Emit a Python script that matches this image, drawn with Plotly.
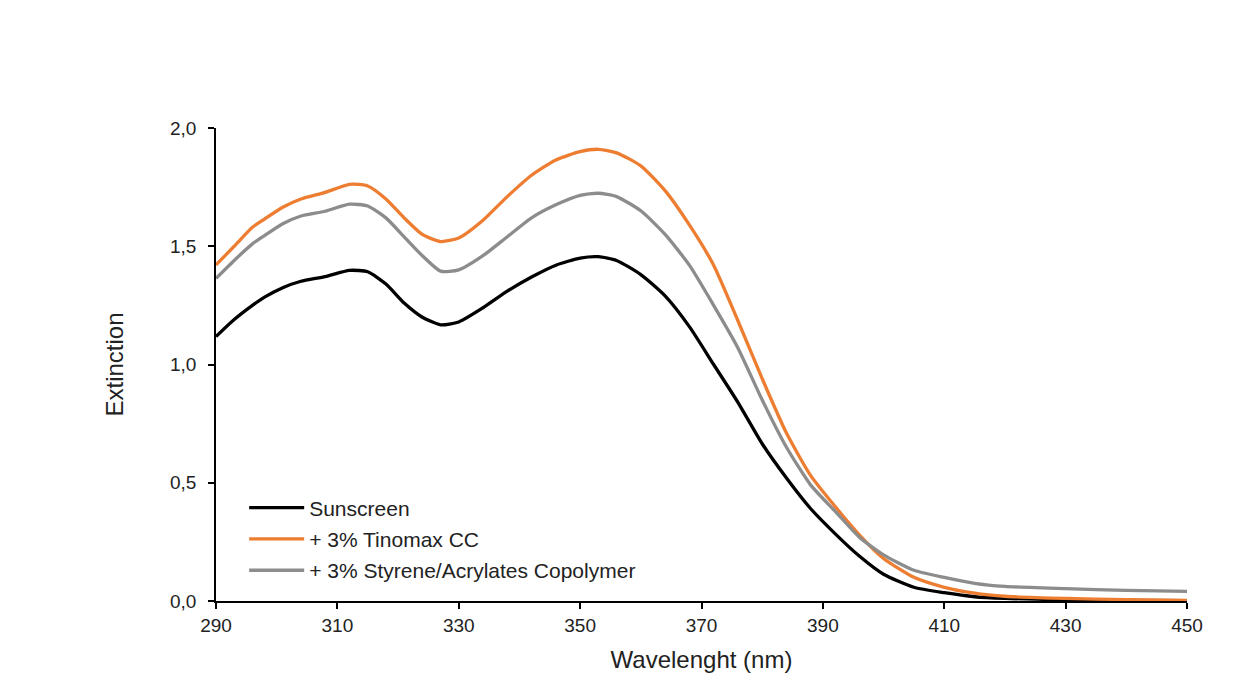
import plotly.graph_objects as go

# Wavelengths (nm).
wavelength = [290, 293, 296, 298, 301, 304, 308, 312, 315, 318, 321, 324, 327, 330,
              334, 338, 342, 346, 350, 353, 356, 360, 364, 368, 372, 376, 380, 384,
              388, 392, 396, 400, 405, 410, 415, 420, 430, 440, 450]

# Extinction values for each sample.
sunscreen = [1.118, 1.19, 1.25, 1.285, 1.325, 1.352, 1.372, 1.398, 1.392, 1.34, 1.26, 1.20,
             1.168, 1.180, 1.24, 1.31, 1.37, 1.42, 1.45, 1.456, 1.44, 1.38, 1.29, 1.16,
             1.0, 0.84, 0.665, 0.52, 0.39, 0.285, 0.19, 0.113, 0.058, 0.035, 0.018, 0.011,
             0.005, 0.003, 0.002]
tinomax = [1.421, 1.50, 1.58, 1.615, 1.665, 1.70, 1.728, 1.762, 1.755, 1.70, 1.62, 1.55,
           1.52, 1.535, 1.61, 1.71, 1.80, 1.865, 1.90, 1.910, 1.895, 1.84, 1.735, 1.59,
           1.42, 1.185, 0.94, 0.71, 0.53, 0.40, 0.28, 0.18, 0.10, 0.058, 0.033, 0.02,
           0.011, 0.006, 0.003]
copolymer = [1.364, 1.44, 1.51, 1.545, 1.595, 1.628, 1.648, 1.678, 1.670, 1.62, 1.54, 1.46,
             1.395, 1.400, 1.46, 1.54, 1.62, 1.675, 1.715, 1.724, 1.71, 1.65, 1.55, 1.42,
             1.25, 1.07, 0.85, 0.65, 0.49, 0.38, 0.27, 0.195, 0.13, 0.10, 0.075, 0.062,
             0.052, 0.045, 0.041]

series_names = ['Sunscreen', '+ 3% Tinomax CC', '+ 3% Styrene/Acrylates Copolymer']
series_colors = ['#000000', '#ED7D31', '#8C8C8C']
x_ticks = [290, 310, 330, 350, 370, 390, 410, 430, 450]
y_ticks = [0, 0.5, 1.0, 1.5, 2.0]

fig = go.Figure()

# One smooth line per sample.
for name, values, color in zip(series_names, [sunscreen, tinomax, copolymer], series_colors):
    fig.add_trace(go.Scatter(x=wavelength, y=values, mode='lines', name=name,
                             legendgroup=name,
                             line=dict(color=color, width=3.3, shape='spline', smoothing=0.6)))

family = 'Liberation Sans, Arial, sans-serif'
tick_font = dict(family=family, size=19, color='#222222')

fig.update_layout(
    width=1233, height=700,
    margin=dict(l=208, r=54, t=120, b=107),
    paper_bgcolor='white', plot_bgcolor='white',
    separators=', ',
    font=dict(family=family, size=19, color='#222222'),
    showlegend=True,
    legend=dict(x=0.029, y=0.24, xanchor='left', yanchor='top', itemwidth=55,
                bgcolor='rgba(0,0,0,0)', tracegroupgap=1,
                font=dict(family=family, size=21, color='#222222')),
    xaxis=dict(title=dict(text='Wavelenght (nm)', font=dict(size=24), standoff=17),
               range=[290, 450], tickvals=x_ticks, tickfont=tick_font,
               showgrid=False, zeroline=False,
               showline=True, linecolor='black', linewidth=1.5,
               ticks='outside', ticklen=6, tickcolor='black', tickwidth=1.5),
    yaxis=dict(title=dict(text='Extinction', font=dict(size=24), standoff=40),
               range=[0, 2], tickvals=y_ticks, tickformat='.1f', tickfont=tick_font,
               ticklabelstandoff=8,
               showgrid=False, zeroline=False, showline=True, linecolor='black',
               linewidth=1.5, ticks='outside', ticklen=6, tickcolor='black', tickwidth=1.5),
)

fig.write_html('out.html')
